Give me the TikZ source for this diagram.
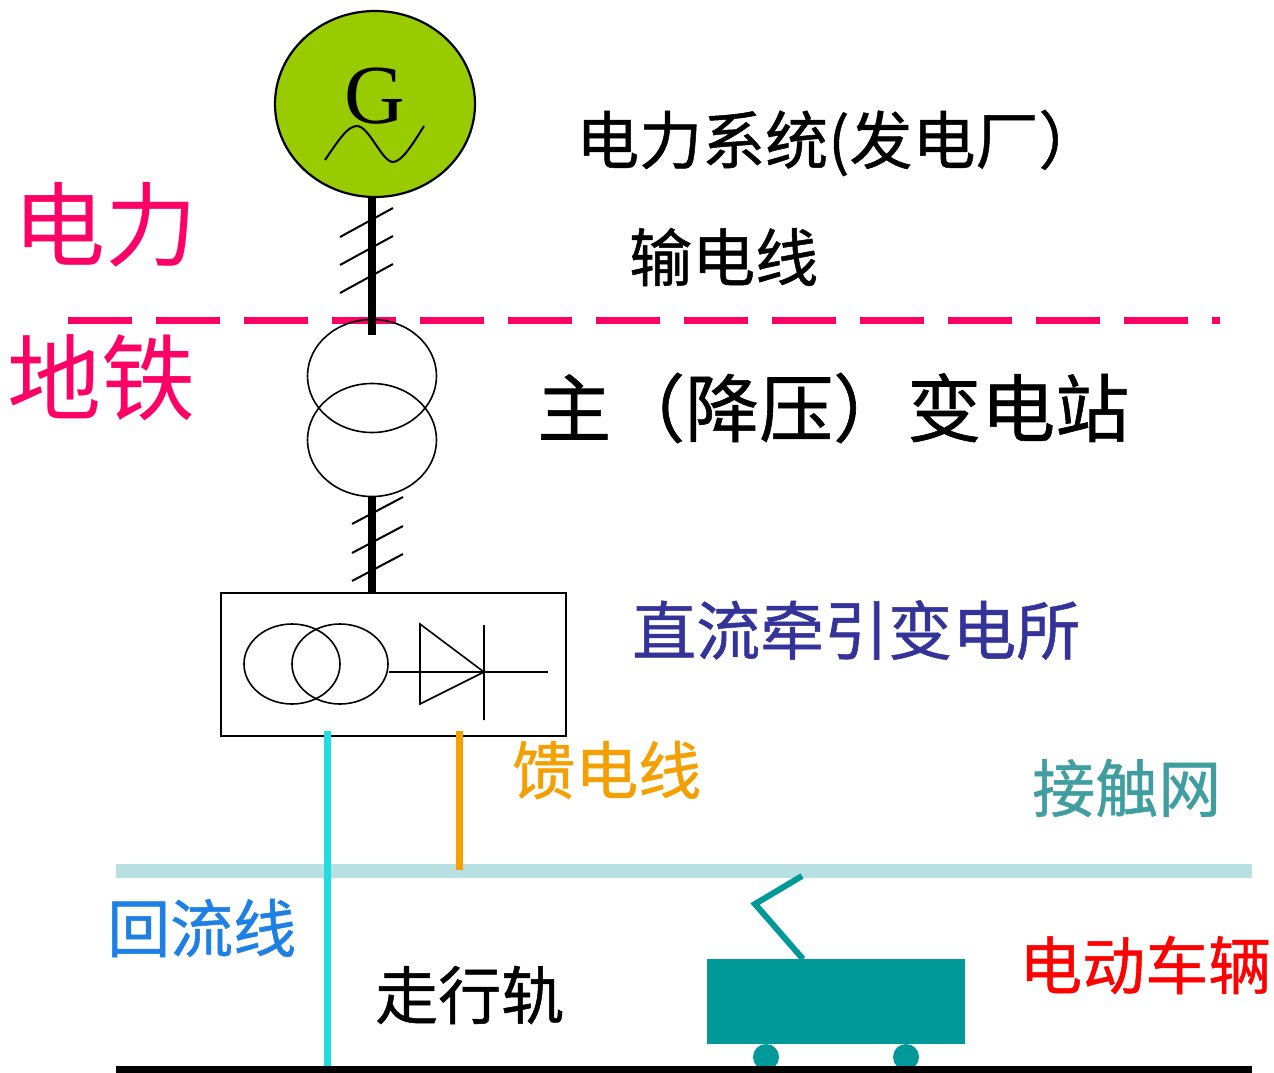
\documentclass[tikz,border=0pt]{standalone}
\usepackage{fontspec}
\setmainfont{Liberation Serif}
\newfontfamily\hei[FakeBold=0.8]{Noto Sans CJK SC}
\newfontfamily\heil{Noto Sans CJK SC}
\usetikzlibrary{shapes.geometric}

\definecolor{gengreen}{RGB}{153,204,0}
\definecolor{zonepink}{RGB}{255,0,102}
\definecolor{retcyan}{RGB}{34,221,224}
\definecolor{feedorange}{RGB}{245,160,0}
\definecolor{wireblue}{RGB}{184,224,227}
\definecolor{cargreen}{RGB}{0,153,153}
\definecolor{stationblue}{RGB}{51,51,153}
\definecolor{netteal}{RGB}{64,158,160}
\definecolor{returnblue}{RGB}{30,128,228}

\tikzset{
  bus/.style={line width=8pt},
  tick/.style={line width=2pt},
  coil/.style={draw,ellipse,line width=1.6pt,inner sep=0pt},
  lbl/.style={anchor=west,inner sep=0pt,font=\hei\fontsize{63}{63}\selectfont},
  zone/.style={anchor=west,inner sep=0pt,text=zonepink,font=\heil\fontsize{92}{92}\selectfont},
}

\begin{document}
\begin{tikzpicture}[x=1pt,y=-1pt]
\useasboundingbox (0,0) rectangle (1274,1073);
\draw[zonepink,line width=7pt,dash pattern=on 64pt off 24pt] (68,320) -- (1220,320);
\node[coil,fill=gengreen,line width=2.2pt,minimum width=200pt,minimum height=186pt] (gen) at (375,104) {};
\node[inner sep=0pt,font=\fontsize{84}{84}\selectfont] (g) at (375,96) {G};
\draw[line width=2pt] (325,160) .. controls (340,138) and (348,126) .. (357,126) .. controls (369,126) and (382,162) .. (393,162) .. controls (402,162) and (414,142) .. (424,126);
\node[coil,minimum width=129pt,minimum height=113pt] (tu) at (372,376) {};
\node[coil,minimum width=129pt,minimum height=113pt] (tl) at (372,440) {};
\node[draw,line width=2.5pt,minimum width=345pt,minimum height=143pt,inner sep=0pt] (rect) at (393.5,664.5) {};
\node[coil,minimum width=96pt,minimum height=80pt] (c1) at (292,664) {};
\node[coil,minimum width=96pt,minimum height=80pt] (c2) at (340,664) {};
\draw[line width=1.6pt] (c2.east |- 0,672) -- (548,672);
\draw[line width=1.6pt,line join=miter] (420,624) -- (484,672) -- (420,704) -- cycle (484,625) -- (484,720);
\draw[bus] (gen.south -| tu.center) -- (372,335);
\foreach \y in {237,265,293} \draw[tick] (340,\y) -- ++(53,-29);
\draw[bus] (tl.south) -- (tl.south |- rect.north);
\foreach \y in {524,553,581} \draw[tick] (352,\y) -- ++(51,-27);
\draw[wireblue,line width=14pt] (116,871) -- (1252,871);
\draw[retcyan,line width=7pt] (327,731) -- (327,1068);
\draw[feedorange,line width=7pt] (459,731) -- (459,870);
\fill[cargreen] (707,959) rectangle (965,1044);
\fill[cargreen] (766,1057) circle[radius=13pt] (906,1057) circle[radius=13pt];
\draw[cargreen,line width=6pt,line join=miter] (803,959) -- (755,904) -- (802,876);
\draw[line width=8pt] (116,1070) -- (1252,1070);
\node[lbl] (sys) at (576,143) {电力系统(发电厂）};
\node[lbl] (trans) at (629,257) {输电线};
\node[lbl,font=\hei\fontsize{74}{74}\selectfont] (sub) at (537,408) {主（降压）变电站};
\node[lbl,text=stationblue,font=\hei\fontsize{64}{64}\selectfont] (dcs) at (632,630) {直流牵引变电所};
\node[lbl,text=feedorange] (feed) at (512,770) {馈电线};
\node[lbl,text=netteal] (net) at (1032,788) {接触网};
\node[lbl,text=returnblue] (ret) at (107,928) {回流线};
\node[lbl] (rail) at (375,995) {走行轨};
\node[lbl,text=red] (ev) at (1019,965) {电动车辆};
\node[zone] (power) at (13,225) {电力};
\node[zone,font=\heil\fontsize{94}{94}\selectfont] (metro) at (7,378) {地铁};
\end{tikzpicture}
\end{document}
